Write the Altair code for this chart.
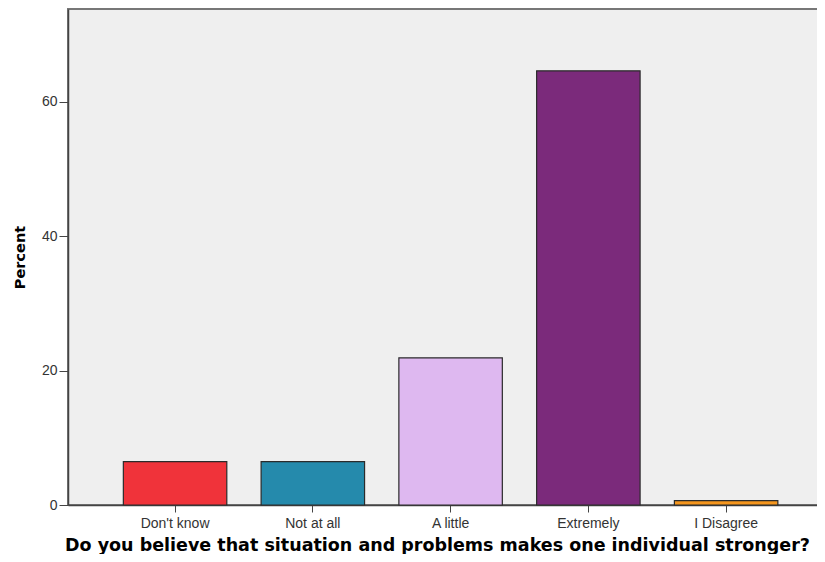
import altair as alt
import pandas as pd

categories = ["Don't know", "Not at all", "A little", "Extremely", "I Disagree"]
percents = [6.45, 6.45, 21.9, 64.6, 0.65]
colors = ["#F0333A", "#258AAC", "#DEB8F0", "#7B2A7B", "#F5961E"]

df = pd.DataFrame({"cat": categories, "pct": percents})

chart = alt.Chart(df).mark_bar(
    stroke="#2b2b2b", strokeWidth=1.2
).encode(
    x=alt.X("cat:N", sort=categories,
            scale=alt.Scale(paddingInner=0.249, paddingOuter=0.372, align=0.54),
            axis=alt.Axis(title="Do you believe that situation and problems makes one individual stronger?",
                          labelAngle=0, labelFontSize=14, labelColor="#333333",
                          labelFont="Liberation Sans", tickSize=7, tickColor="#444444",
                          domainColor="#444444", domainWidth=1.5, labelPadding=4,
                          titleFont="DejaVu Sans", titleFontSize=17.5, titleFontWeight="bold",
                          titleColor="#000000", titleBaseline="alphabetic",
                          titleX=369, titleY=45)),
    y=alt.Y("pct:Q", scale=alt.Scale(domain=[0, 73.8], nice=False),
            axis=alt.Axis(title="Percent", values=[0, 20, 40, 60], grid=False,
                          labelFontSize=14, labelColor="#333333", labelFont="Liberation Sans",
                          tickSize=9, tickColor="#444444", domainColor="#444444", domainWidth=1.5,
                          labelPadding=2,
                          titleFont="DejaVu Sans", titleFontSize=14.5, titleFontWeight="bold",
                          titleColor="#000000", titlePadding=14)),
    color=alt.Color("cat:N", sort=categories,
                    scale=alt.Scale(domain=categories, range=colors), legend=None),
).properties(
    width=757, height=496,
    autosize=alt.AutoSizeParams(type="none"),
    padding={"left": 60, "top": 1, "right": -8, "bottom": 49},
).configure_view(
    fill="#EFEFEF", stroke="#777777", strokeWidth=2
)

chart.save("out.html", embed_options={"renderer": "svg", "actions": False})
